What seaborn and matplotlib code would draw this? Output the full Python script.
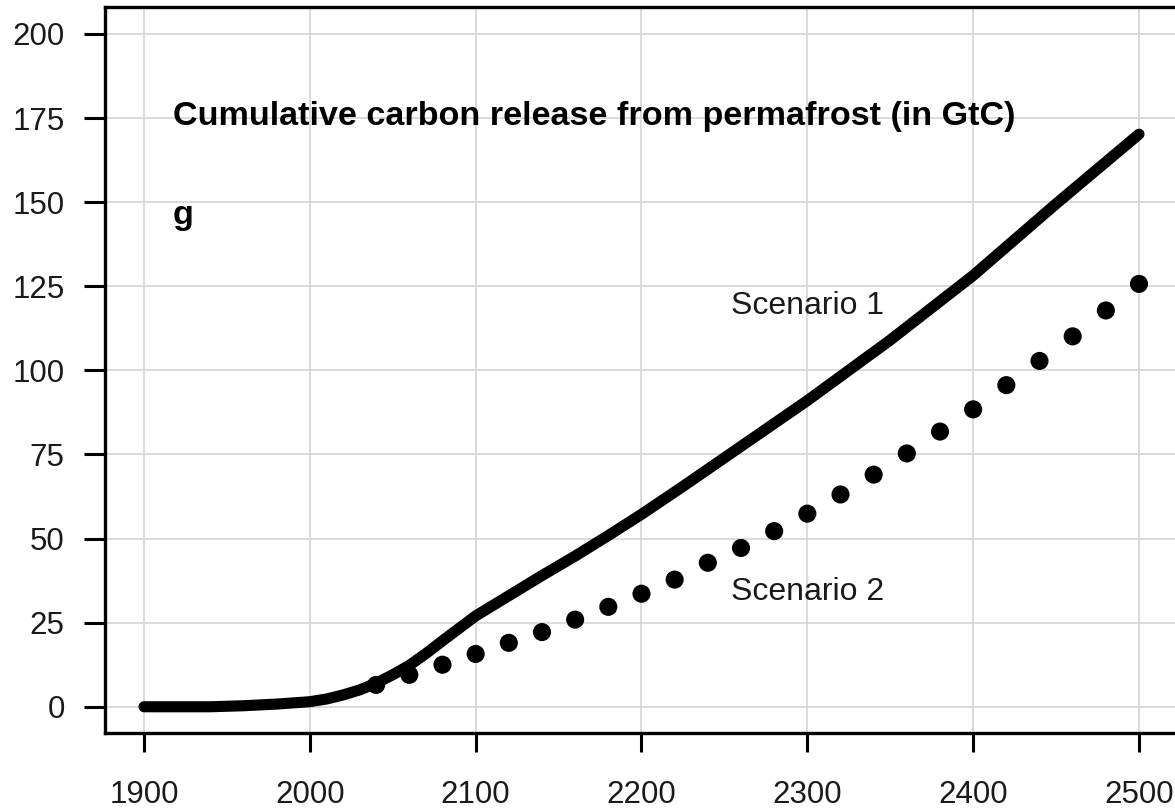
import numpy as np
import pandas as pd
import matplotlib
matplotlib.use("Agg")
import matplotlib.pyplot as plt
import seaborn as sns

# Scenario 1: cumulative carbon release (GtC), continuous curve
years_s1 = [1900, 1920, 1940, 1960, 1980, 2000, 2010, 2020, 2030, 2040, 2050,
            2060, 2070, 2080, 2090, 2100, 2120, 2140, 2160, 2180, 2200, 2225,
            2250, 2275, 2300, 2350, 2400, 2450, 2500]
release_s1 = [0.0, 0.0, 0.0, 0.3, 0.8, 1.5, 2.3, 3.5, 5.0, 7.0, 9.5,
              12.3, 15.8, 19.6, 23.3, 27.0, 33.0, 39.0, 44.8, 50.9, 57.2, 65.5,
              74.0, 82.5, 91.0, 109.0, 128.2, 149.5, 170.2]

# Scenario 2: cumulative carbon release (GtC), every 20 years
years_s2 = [2040, 2060, 2080, 2100, 2120, 2140, 2160, 2180, 2200, 2220, 2240,
            2260, 2280, 2300, 2320, 2340, 2360, 2380, 2400, 2420, 2440, 2460,
            2480, 2500]
release_s2 = [6.5, 9.5, 12.5, 15.7, 19.0, 22.2, 25.9, 29.7, 33.6, 37.8, 42.8,
              47.2, 52.2, 57.4, 63.1, 69.0, 75.3, 81.8, 88.4, 95.6, 102.8, 110.1,
              117.8, 125.7]

x_ticks = [1900, 2000, 2100, 2200, 2300, 2400, 2500]
y_ticks = [0, 25, 50, 75, 100, 125, 150, 175, 200]

sns.set_theme(style="whitegrid")
plt.rcParams["font.family"] = ["Liberation Sans", "DejaVu Sans"]

df1 = pd.DataFrame({"year": years_s1, "release": release_s1})
df2 = pd.DataFrame({"year": years_s2, "release": release_s2})

fig = plt.figure(figsize=(11.75, 8.09), dpi=100)
ax = fig.add_axes([105 / 1175, 1 - 733 / 809, 1 - 105 / 1175, (733 - 7) / 809])

sns.lineplot(data=df1, x="year", y="release", ax=ax, color="black",
             linewidth=8.0, solid_capstyle="round", solid_joinstyle="round",
             zorder=3)
sns.scatterplot(data=df2, x="year", y="release", ax=ax, color="black",
                s=170, edgecolor="none", zorder=4)

ax.set_xlim(1876.5, 2521.7)
ax.set_ylim(-7.8, 208.0)
ax.set_xticks(x_ticks)
ax.set_yticks(y_ticks)
ax.set_xlabel("")
ax.set_ylabel("")

ax.grid(True, color="#d8d8d8", linewidth=1.3)
ax.set_facecolor("white")
for side in ("left", "top", "bottom"):
    ax.spines[side].set_visible(True)
    ax.spines[side].set_color("black")
    ax.spines[side].set_linewidth(2.4)
ax.spines["right"].set_visible(False)

ax.tick_params(axis="y", which="major", direction="out", length=15,
               width=2.2, color="black", pad=14, labelsize=22.5, left=True)
ax.tick_params(axis="x", which="major", direction="out", length=14,
               width=2.2, color="black", pad=20, labelsize=22.5, bottom=True)
for lab in ax.get_xticklabels() + ax.get_yticklabels():
    lab.set_color("#1a1a1a")

ax.text(1917.5, 173.0, "Cumulative carbon release from permafrost (in GtC)",
        fontsize=24.6, fontweight="bold", ha="left", va="baseline", color="black")
ax.text(1917.5, 143.4, "g", fontsize=24.6, fontweight="bold",
        ha="left", va="baseline", color="black")
ax.text(2254, 116.8, "Scenario 1", fontsize=23, ha="left", va="baseline",
        color="#1a1a1a")
ax.text(2254, 31.6, "Scenario 2", fontsize=23, ha="left", va="baseline",
        color="#1a1a1a")

fig.savefig("out.png", dpi=100, facecolor="white")
